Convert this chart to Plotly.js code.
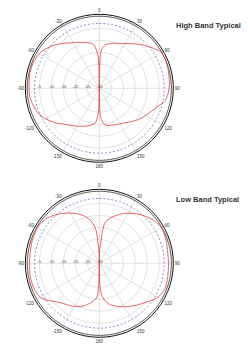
<!DOCTYPE html>
<html>
<head>
<meta charset="utf-8">
<script src="https://cdn.plot.ly/plotly-3.0.1.min.js"></script>
<style>
html,body{margin:0;padding:0;background:#fff;}
#chart{width:248px;height:350px;}
</style>
</head>
<body>
<div id="chart"></div>
<script>
// ---- Data (angle in degrees, clockwise from top; level in dB) ----
const highTheta = [0,1.7,3.8,7.8,11.7,18,26.6,33,38.7,46.7,54.5,59.7,67.3,76.6,87.3,95.5,101.4,107,113.9,125,134,143.4,158,170.9,176.4,178.5,180,
  -178.5,-177.2,-173.5,-167,-159.9,-150,-140.5,-125.7,-113.7,-103.9,-95.4,-87.3,-76.6,-66.7,-58.1,-50.6,-42.1,-33.7,-23,-13.1,-7.3,-2.3,-1,0];
const highLevel = [-30,-16.3,-13.5,-11.8,-11.1,-10.2,-9.2,-7.8,-6.3,-4.0,-1.7,-0.2,0,-0.4,-0.8,-1.4,-2.3,-4.5,-6.3,-8.5,-10.3,-12.1,-13.6,-14.5,-17,-21,-30,
  -22,-19,-15.5,-14.3,-13.2,-11.8,-10.2,-6.0,-2.8,-1.5,-0.8,-0.7,-0.4,-0.6,-1.4,-3.0,-5.1,-7.3,-9.2,-10.6,-11.8,-16.3,-21,-30];

const lowTheta = [0,1.5,3.8,5.7,8.2,15.2,21,27.1,33,38.2,49.5,59.7,71,81.8,90,100.9,112,120.5,126,132,140,148,157,165.6,172,176,178.5,180,
  -178.5,-175.6,-168,-159.7,-148,-135.5,-128,-120.7,-112.1,-100.8,-90,-81.9,-71.1,-59.5,-50.2,-39.1,-28.3,-22,-16.5,-10,-5.7,-3.8,-1.5,0];
const lowLevel = [-30,-25,-21.8,-16.2,-12.7,-10.1,-8.4,-6.6,-5.2,-3.9,-1.5,-0.2,-0.6,-1.2,-1.2,-1.0,-0.7,-1.9,-3.5,-5.3,-7.0,-8.7,-10.5,-12.3,-14.5,-16.9,-21,-30,
  -21,-15.6,-13.3,-11,-9,-7.0,-4.5,-1.8,-0.9,-0.7,-0.9,-0.9,-0.5,-0.3,-1.1,-3.5,-6.3,-8.0,-9.7,-12.6,-16.2,-21.8,-25,-30];

const halfPowerLevel = -3;   // blue dashed reference
const fullScaleLevel = 0;    // black reference ring

const angleTickVals = [0,30,60,90,120,150,180,210,240,270,300,330];
const angleTickText = ['0','30','60','90','120','150','180','-150','-120','-90','-60','-30'];
const radialTickVals = [-30,-25,-20,-15,-10,-5,0];
const radialTickText = ['-30','-25','-20','-15','-10','-5',''];

const chartTitles = ['High Band Typical','Low Band Typical'];

// reference ring angles
const ringTheta = [];
for (let a = 0; a <= 360; a += 3) ringTheta.push(a);

function refTraces(sub){
  return [
    {type:'scatterpolar', subplot:sub, mode:'lines', theta:ringTheta,
     r:ringTheta.map(()=>fullScaleLevel), line:{color:'#444', width:0.8}, hoverinfo:'skip'},
    {type:'scatterpolar', subplot:sub, mode:'lines', theta:ringTheta,
     r:ringTheta.map(()=>halfPowerLevel), line:{color:'#5a5ab4', width:0.7, dash:'2px,2px'}, hoverinfo:'skip'}
  ];
}

const data = [
  ...refTraces('polar'),
  {type:'scatterpolar', subplot:'polar', mode:'lines', theta:highTheta, r:highLevel,
   line:{color:'#e03c3c', width:0.8, shape:'spline', smoothing:0.8}},
  ...refTraces('polar2'),
  {type:'scatterpolar', subplot:'polar2', mode:'lines', theta:lowTheta, r:lowLevel,
   line:{color:'#e03c3c', width:0.8, shape:'spline', smoothing:0.8}}
];

function polarCfg(ydom){
  return {
    domain:{x:[0.102,0.699], y:ydom},
    bgcolor:'rgba(0,0,0,0)',
    radialaxis:{range:[-30,0.8], tickvals:radialTickVals, ticktext:radialTickText, angle:180,
      tickangle:180, showline:false, ticks:'', gridcolor:'#d4d4d4', gridwidth:0.7,
      tickfont:{size:4.2, color:'#555', family:'Liberation Sans, Arial, sans-serif'}},
    angularaxis:{rotation:90, direction:'clockwise', tickvals:angleTickVals, ticktext:angleTickText,
      ticks:'', showline:true, linecolor:'#111', linewidth:1, gridcolor:'#d4d4d4', gridwidth:0.7,
      tickfont:{size:4.5, color:'#333', family:'Liberation Sans, Arial, sans-serif'}}
  };
}

const layout = {
  width:248, height:350,
  margin:{l:0,r:0,t:0,b:0},
  paper_bgcolor:'#fff',
  showlegend:false,
  polar:polarCfg([0.5363,0.9591]),
  polar2:polarCfg([0.0363,0.4591]),
  annotations:[
    {text:'<b>'+chartTitles[0]+'</b>', xref:'paper', yref:'paper', x:0.839, y:0.926,
     xanchor:'center', yanchor:'middle',
     showarrow:false, font:{size:7.5, color:'#333', family:'Liberation Sans, Arial, sans-serif'}},
    {text:'<b>'+chartTitles[1]+'</b>', xref:'paper', yref:'paper', x:0.835, y:0.431,
     xanchor:'center', yanchor:'middle',
     showarrow:false, font:{size:7.5, color:'#333', family:'Liberation Sans, Arial, sans-serif'}}
  ]
};

Plotly.newPlot('chart', data, layout, {staticPlot:true, displayModeBar:false});
</script>
</body>
</html>
